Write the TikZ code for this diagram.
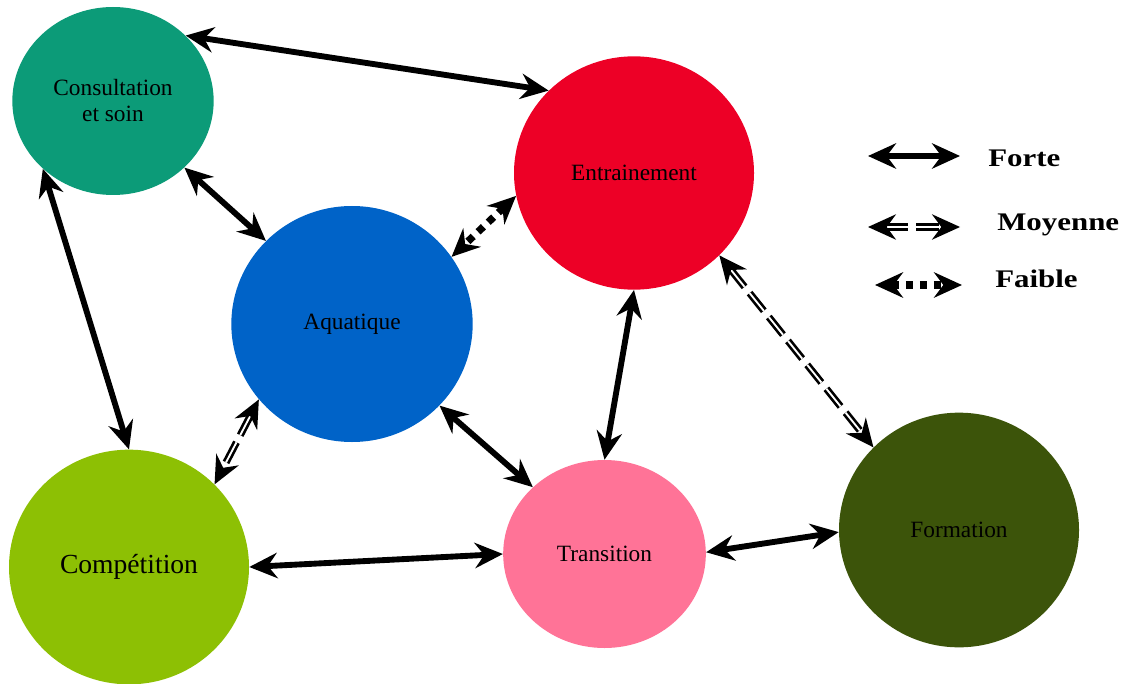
\documentclass[tikz,border=0pt]{standalone}
\usepackage{fontspec}
\setmainfont{Liberation Serif}
\usetikzlibrary{arrows.meta,shapes.geometric}

\definecolor{consultcol}{RGB}{12,155,120}
\definecolor{entraincol}{RGB}{237,0,38}
\definecolor{aquacol}{RGB}{0,99,200}
\definecolor{compcol}{RGB}{141,192,4}
\definecolor{transcol}{RGB}{255,115,151}
\definecolor{formcol}{RGB}{60,84,10}

\begin{document}
\begin{tikzpicture}[x=0.75pt,y=-0.75pt]
        \tikzset{
            pole/.style={ellipse, inner sep=0pt, align=center, font=\fontsize{17.5}{19.5}\selectfont},
            forte/.style={line width=4.4pt, {Stealth[length=21pt,width=19pt,inset=7pt]}-{Stealth[length=21pt,width=19pt,inset=7pt]}},
            moyenne/.style={line width=2pt, double=white, double distance=1.4pt, dash pattern=on 17pt off 6pt,
                {Stealth[length=21pt,width=19pt,inset=7pt]}-{Stealth[length=21pt,width=19pt,inset=7pt]}},
            faible/.style={line width=5.5pt, dash pattern=on 5.5pt off 5pt,
                {Stealth[length=21pt,width=19pt,inset=7pt]}-{Stealth[length=21pt,width=19pt,inset=7pt]}},
            legend text/.style={anchor=base west, inner sep=0pt, font=\bfseries\fontsize{19}{20}\selectfont}
        }
        \useasboundingbox (0,0) rectangle (1123,684);

        % les poles
        \node[pole, fill=consultcol, minimum width=151pt, minimum height=141pt] (consult) at (113,101) {Consultation\\et soin};
        \node[pole, fill=entraincol, minimum width=180pt, minimum height=175pt] (entrain) at (634,173) {Entrainement};
        \node[pole, fill=aquacol, minimum width=181pt, minimum height=177pt] (aqua) at (352,324) {Aquatique};
        \node[pole, fill=compcol, minimum width=180pt, minimum height=176pt, font=\fontsize{20.7}{22}\selectfont] (comp) at (129,567) {Compétition};
        \node[pole, fill=transcol, minimum width=152pt, minimum height=141pt] (trans) at (604.5,554) {Transition};
        \node[pole, fill=formcol, minimum width=180pt, minimum height=176pt] (form) at (959,530) {Formation};

        % liens
        \draw[forte] (consult.42) -- (entrain.136);
        \draw[forte] (consult.-43) -- (aqua.136);
        \draw[forte] (consult.224) -- (comp.90);
        \draw[faible] (entrain.191) -- (aqua.34);
        \draw[forte] (entrain.-90) -- (trans.90);
        \draw[moyenne] (entrain.-44) -- (form.136);
        \draw[moyenne] (aqua.219) -- (comp.44);
        \draw[forte] (aqua.-43) -- (trans.137);
        \draw[forte] (comp.0) -- (trans.180);
        \draw[forte] (trans.1) -- (form.181);

        % legende
        \coordinate (forte a) at (868,156);
        \coordinate (forte b) at (960,156);
        \coordinate (moy a) at (868,227);
        \coordinate (moy b) at (960,227);
        \coordinate (faible a) at (875,285);
        \coordinate (faible b) at (962,285);
        \draw[forte] (forte a) -- (forte b);
        \draw[moyenne] (moy a) -- (moy b);
        \draw[faible] (faible a) -- (faible b);
        \node[legend text] (l forte) at (988,167) {\scalebox{1.22}[1]{Forte}};
        \node[legend text] (l moy) at (997,230) {\scalebox{1.22}[1]{Moyenne}};
        \node[legend text] (l faible) at (995,287) {\scalebox{1.22}[1]{Faible}};
    \end{tikzpicture}
\end{document}
